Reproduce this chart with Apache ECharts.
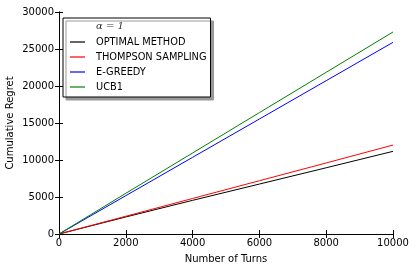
<!DOCTYPE html>
<html><head><meta charset="utf-8">
<script src="https://cdn.jsdelivr.net/npm/echarts@6/dist/echarts.min.js"></script>
<style>html,body{margin:0;padding:0;background:#fff}#c{width:416px;height:271px}</style>
</head><body><div id="c"></div>
<script>
const turns = [0, 2000, 4000, 6000, 8000, 10000];
const optimal = [0, 2300, 4550, 6750, 8950, 11170];
const thompson = [0, 2400, 4800, 7200, 9600, 12020];
const egreedy = [0, 5180, 10360, 15540, 20720, 25900];
const ucb1 = [0, 5500, 10950, 16400, 21850, 27300];
const names = ['OPTIMAL METHOD', 'THOMPSON SAMPLING', 'E-GREEDY', 'UCB1'];
const colors = ['#000000', '#ff0000', '#0000ff', '#008000'];
const values = [optimal, thompson, egreedy, ucb1];

const font = 'DejaVu Sans';
const chart = echarts.init(document.getElementById('c'), null, {renderer: 'canvas'});
const axisLine = {show: true, lineStyle: {color: '#000', width: 1}};
const tick = {show: true, inside: true, length: 4, lineStyle: {color: '#000'}};
const fmt = v => String(v);
chart.setOption({
  animation: false,
  backgroundColor: '#fff',
  grid: {left: 59, right: 23, top: 12, bottom: 37, show: false, containLabel: false, outerBoundsMode: 'none'},
  xAxis: [{
    type: 'value', min: 0, max: 10000, interval: 2000, position: 'bottom',
    name: 'Number of Turns', nameLocation: 'middle', nameGap: 20,
    nameTextStyle: {fontFamily: font, fontSize: 10, color: '#000'},
    axisLine: axisLine, axisTick: tick, splitLine: {show: false},
    axisLabel: {fontFamily: font, fontSize: 10, color: '#000', margin: 4, formatter: fmt}
  }, {
    type: 'value', min: 0, max: 10000, interval: 2000, position: 'top',
    axisLine: axisLine, axisTick: tick, splitLine: {show: false}, axisLabel: {show: false}
  }],
  yAxis: [{
    type: 'value', min: 0, max: 30000, interval: 5000, position: 'left',
    name: 'Cumulative Regret', nameLocation: 'middle', nameGap: 49, nameRotate: 90,
    nameMoveOverlap: false,
    nameTextStyle: {fontFamily: font, fontSize: 10, color: '#000', verticalAlign: 'middle'},
    axisLine: axisLine, axisTick: tick, splitLine: {show: false},
    axisLabel: {fontFamily: font, fontSize: 10, color: '#000', margin: 5, formatter: fmt}
  }, {
    type: 'value', min: 0, max: 30000, interval: 5000, position: 'right',
    axisLine: axisLine, axisTick: tick, splitLine: {show: false}, axisLabel: {show: false}
  }],
  legend: {
    orient: 'vertical', left: 63, top: 18,
    data: names,
    icon: 'rect', itemWidth: 15, itemHeight: 1.2, itemGap: 3,
    padding: [18, 4, 4, 7],
    backgroundColor: '#fff', borderColor: '#000', borderWidth: 1, borderRadius: 0,
    shadowColor: '#999', shadowOffsetX: 3, shadowOffsetY: 3, shadowBlur: 0,
    textStyle: {fontFamily: font, fontSize: 9.8, color: '#000', lineHeight: 12, padding: [0, 0, 0, 6]}
  },
  graphic: [{
    type: 'text', left: 96, top: 21, z: 100,
    style: {text: 'α = 1', font: 'italic 10px "DejaVu Serif"', fill: '#333'}
  }],
  series: names.map((n, i) => ({
    name: n, type: 'line', showSymbol: false, symbol: 'none',
    data: turns.map((t, j) => [t, values[i][j]]),
    lineStyle: {color: colors[i], width: 1}, itemStyle: {color: colors[i]}
  }))
});
</script></body></html>
